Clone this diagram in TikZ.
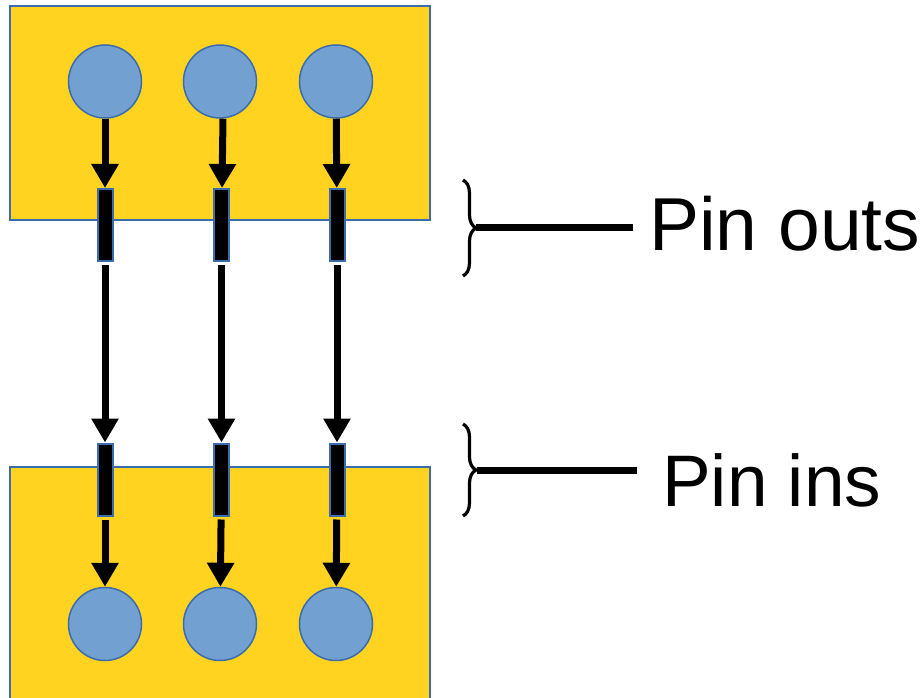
\documentclass[tikz,border=0pt]{standalone}
\usepackage{fontspec}
\setmainfont{Liberation Sans}
\usetikzlibrary{arrows.meta,decorations.pathreplacing}
\definecolor{chipyellow}{HTML}{FFD320}
\definecolor{padblue}{HTML}{72A0D0}
\definecolor{edgeblue}{HTML}{3B6CAD}
\tikzset{
	chip/.style={fill=chipyellow, draw=edgeblue, line width=1.5pt},
	pad/.style={circle, fill=padblue, draw=edgeblue, line width=1.5pt, minimum size=73pt, inner sep=0pt},
	pin/.style={rectangle, fill=black, draw=edgeblue, line width=2pt, minimum width=15pt, minimum height=72pt, inner sep=0pt},
	sig/.style={line width=7pt, -{Triangle[width=26pt,length=24pt]}},
	brc/.style={decorate, decoration={brace, amplitude=13pt}, line width=3.2pt},
	lbl/.style={anchor=base west, inner sep=0pt}
}

\begin{document}
\begin{tikzpicture}[x=1pt, y=-1pt]
	\useasboundingbox (0,0) rectangle (922,698);
	% chips
	\draw[chip] (10,6) rectangle (430,220);
	\fill[chipyellow] (10,467) rectangle (430,698);
	\draw[edgeblue, line width=1.5pt] (10,698) -- (10,467) -- (430,467) -- (430,698);
	% pads and pins
	\foreach \i/\x in {1/105, 2/220, 3/336} {
		\node[pad] (c\i) at (\x,81.5) {};
		\node[pad] (d\i) at (\x,624) {};
	}
	\foreach \i/\x in {1/105, 2/221.5, 3/337} {
		\node[pin] (po\i) at (\x,225) {};
		\node[pin] (pi\i) at (\x,479.5) {};
	}
	\draw[sig] (c1) -- (po1);
	\draw[sig] ([xshift=3pt]c2.south) -- (po2);
	\draw[sig] (c3) -- (po3);
	\foreach \i in {1,2,3} {
		\draw[sig, shorten <=3pt] (po\i) -- (pi\i);
		\draw[sig, shorten <=3pt] (pi\i) -- (d\i);
	}
	% braces and labels
	\draw[brc] (463,180) -- (463,276) coordinate[midway, xshift=13pt] (bt1);
	\draw[brc] (463,424) -- (463,516) coordinate[midway, xshift=14pt] (bt2);
	\node[lbl, font=\fontsize{75}{80}\selectfont] (outs) at (649,251) {Pin outs};
	\node[lbl, font=\fontsize{73}{78}\selectfont] (ins) at (662,506) {Pin ins};
	\draw[line width=7pt] (bt1) -- ([xshift=-16pt]bt1 -| outs.west);
	\draw[line width=7pt] (bt2) -- ([xshift=-25pt]bt2 -| ins.west);
\end{tikzpicture}
\end{document}
